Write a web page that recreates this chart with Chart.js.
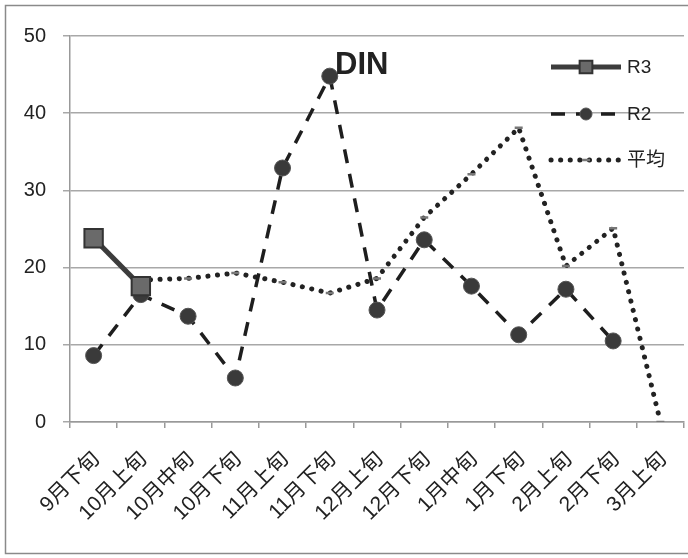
<!DOCTYPE html>
<html>
<head>
<meta charset="utf-8">
<script src="https://cdn.jsdelivr.net/npm/chart.js@4.4.1/dist/chart.umd.min.js"></script>
<style>
  html, body { margin: 0; padding: 0; background: #fff; }
  #wrap { width: 688px; height: 558px; position: relative; }
</style>
</head>
<body>
<div id="wrap"><canvas id="c" width="688" height="558"></canvas></div>
<script>
const categories = ['9月下旬','10月上旬','10月中旬','10月下旬','11月上旬','11月下旬','12月上旬','12月下旬','1月中旬','1月下旬','2月上旬','2月下旬','3月上旬'];
const seriesR3 = [23.8, 17.6, null, null, null, null, null, null, null, null, null, null, null];
const seriesR2 = [8.6, 16.5, 13.7, 5.7, 32.9, 44.8, 14.5, 23.6, 17.6, 11.3, 17.2, 10.5, null];
const seriesAvg = [null, 18.4, 18.6, 19.3, 18.1, 16.7, 18.6, 26.5, 32.1, 38.1, 20.2, 25.1, 0];
const yTicks = [0, 10, 20, 30, 40, 50];
const titleText = 'DIN';

const FONT = '"Liberation Sans", "Noto Sans CJK JP", sans-serif';

const decorPlugin = {
  id: 'decor',
  beforeDraw(chart) {
    const ctx = chart.ctx;
    ctx.save();
    ctx.fillStyle = '#fff';
    ctx.fillRect(0, 0, chart.width, chart.height);
    ctx.strokeStyle = '#8a8a8a';
    ctx.lineWidth = 1.5;
    ctx.strokeRect(5.5, 5.5, 700, 548);
    ctx.restore();
  },
  afterDraw(chart) {
    const ctx = chart.ctx;
    ctx.save();
    ctx.font = 'bold 31px ' + FONT;
    ctx.fillStyle = '#222';
    ctx.textBaseline = 'middle';
    ctx.textAlign = 'left';
    ctx.fillText(titleText, 335, 65);
    const ys = [67, 114, 160];
    chart.data.datasets.forEach((ds, i) => {
      const y = ys[i];
      ctx.save();
      ctx.strokeStyle = ds.borderColor;
      ctx.lineWidth = ds.borderWidth;
      ctx.lineCap = ds.borderCapStyle || 'butt';
      ctx.setLineDash(ds.legendDash || []);
      ctx.beginPath();
      ctx.moveTo(551, y);
      ctx.lineTo(621, y);
      ctx.stroke();
      ctx.restore();
      if (ds.pointStyle && ds.pointRadius > 0) {
        ctx.save();
        ctx.fillStyle = ds.pointBackgroundColor;
        ctx.strokeStyle = ds.pointBorderColor;
        ctx.lineWidth = ds.pointBorderWidth;
        Chart.helpers.drawPoint(ctx, {pointStyle: ds.pointStyle, rotation: 0, borderWidth: ds.pointBorderWidth, radius: ds.legendRadius || ds.pointRadius}, 586, y);
        ctx.restore();
      }
      ctx.font = '19px ' + FONT;
      ctx.fillStyle = '#222';
      ctx.textAlign = 'left';
      ctx.textBaseline = 'middle';
      ctx.fillText(ds.label, 627, y + 1);
    });
    ctx.restore();
  }
};

new Chart(document.getElementById('c'), {
  type: 'line',
  data: {
    labels: categories,
    datasets: [
      { label: 'R3', data: seriesR3, borderColor: '#3c3c3c', borderWidth: 5, pointStyle: 'rect', pointRadius: 13, legendRadius: 9,
        pointBackgroundColor: '#6a6a6a', pointBorderColor: '#333', pointBorderWidth: 2, order: 1 },
      { label: 'R2', data: seriesR2, borderColor: '#1e1e1e', borderWidth: 3.5, borderDash: [14, 11], legendDash: [14, 11],
        pointStyle: 'circle', pointRadius: 8, legendRadius: 6, pointBackgroundColor: '#3a3a3a', pointBorderColor: '#555', pointBorderWidth: 1, order: 2 },
      { label: '平均', data: seriesAvg, borderColor: '#222', borderWidth: 5, borderCapStyle: 'round', borderDash: [0.1, 9.5], legendDash: [0.1, 9.5],
        pointStyle: 'line', pointRadius: 4, pointBackgroundColor: '#777', pointBorderColor: '#777', pointBorderWidth: 2.5, order: 3 }
    ]
  },
  options: {
    responsive: false,
    animation: false,
    devicePixelRatio: 1,
    layout: { autoPadding: false, padding: { top: 36, right: 4, left: 0, bottom: 0 } },
    plugins: { legend: { display: false }, title: { display: false }, tooltip: { enabled: false } },
    elements: { line: { tension: 0 } },
    scales: {
      x: {
        type: 'category', offset: true,
        grid: { offset: true, drawOnChartArea: false, drawTicks: true, tickLength: 6, color: '#999', lineWidth: 1.5 },
        border: { display: true, color: '#999', width: 1.5 },
        ticks: { autoSkip: false, maxRotation: 45, minRotation: 45, padding: 19, labelOffset: 3, color: '#222', font: { family: FONT, size: 21 } },
        afterFit(s) { s.height = 136; s.paddingLeft = 0; s.paddingRight = 0; }
      },
      y: {
        min: 0, max: 50,
        afterBuildTicks(s) { s.ticks = yTicks.map(v => ({ value: v })); },
        grid: { color: '#a8a8a8', lineWidth: 1.5, tickLength: 7, drawTicks: true },
        border: { display: true, color: '#999', width: 1.5 },
        ticks: { padding: 17, color: '#222', font: { family: FONT, size: 20 } },
        afterFit(s) { s.width = 70; s.paddingTop = 0; s.paddingBottom = 0; }
      }
    }
  },
  plugins: [decorPlugin]
});
</script>
</body>
</html>
